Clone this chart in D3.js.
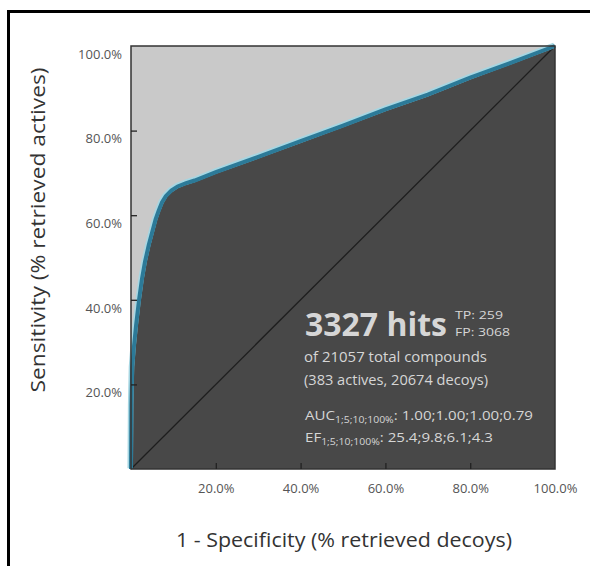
<!DOCTYPE html>
<html><head><meta charset="utf-8">
<script src="https://cdn.jsdelivr.net/npm/d3@7"></script>
<style>
body{margin:0;background:#fff;}
svg{display:block;font-family:"Open Sans","Noto Sans",sans-serif;}
</style></head>
<body>
<svg id="c" width="590" height="566"></svg>
<script>
// ROC curve data (% retrieved decoys vs % retrieved actives)
const fpr = [0, 0.1, 0.3, 0.7, 1.2, 1.9, 2.6, 3.3, 4.2, 5.0, 5.8, 6.5, 7.3, 8.2, 9.5, 11, 13, 15, 20, 30, 40, 50, 60, 70, 80, 90, 100];
const tpr = [0, 15, 24, 29, 34, 40, 45, 49, 53, 56, 59, 61, 63, 64.5, 65.8, 66.8, 67.6, 68.2, 70.2, 73.8, 77.5, 81.2, 85, 88.5, 92.5, 96.2, 100];
const xTicks = [20, 40, 60, 80, 100];
const yTicks = [20, 40, 60, 80, 100];
const hits = "3327 hits";
const tpText = "TP: 259";
const fpText = "FP: 3068";
const totalText = "of 21057 total compounds";
const splitText = "(383 actives, 20674 decoys)";
const aucSub = "1;5;10;100%";
const aucVals = ": 1.00;1.00;1.00;0.79";
const efSub = "1;5;10;100%";
const efVals = ": 25.4;9.8;6.1;4.3";

const svg = d3.select("#c");
const L = 131, R = 555, T = 46, B = 469;
const x = d3.scaleLinear().domain([0, 100]).range([L, R]);
const y = d3.scaleLinear().domain([0, 100]).range([B, T]);

function fit(sel, w) {
  return sel.attr("textLength", w).attr("lengthAdjust", "spacingAndGlyphs");
}

// outer frame
svg.append("rect").attr("x", 8.5).attr("y", 11.5).attr("width", 600).attr("height", 600)
  .attr("fill", "none").attr("stroke", "#000").attr("stroke-width", 3);

const pts = fpr.map((d, i) => [d, tpr[i]]);

// light background (above curve)
svg.append("rect").attr("x", L).attr("y", T).attr("width", R - L).attr("height", B - T).attr("fill", "#c9c9c9");

// dark area below curve
const area = d3.area().x(d => x(d[0])).y0(y(0)).y1(d => y(d[1]));
svg.append("path").datum(pts).attr("d", area).attr("fill", "#484848");

// diagonal
svg.append("path").datum([[0, 0], [100, 100]]).attr("d", d3.line().x(d => x(d[0])).y(d => y(d[1])))
  .attr("stroke", "#1e1e1e").attr("stroke-width", 1.3).attr("fill", "none");

// curve
const line = d3.line().x(d => x(d[0])).y(d => y(d[1]));
svg.append("path").datum(pts).attr("d", line).attr("fill", "none")
  .attr("stroke", "#a6d6e2").attr("stroke-width", 5.5).attr("transform", "translate(-0.8,-0.8)");
svg.append("path").datum(pts).attr("d", line).attr("fill", "none")
  .attr("stroke", "#2c7a98").attr("stroke-width", 4);

// plot border
svg.append("rect").attr("x", L).attr("y", T).attr("width", R - L).attr("height", B - T)
  .attr("fill", "none").attr("stroke", "#333").attr("stroke-width", 1.5);

// axes
const xAxis = d3.axisBottom(x).tickValues(xTicks).tickSize(-6).tickPadding(15).tickFormat(d => d.toFixed(1) + "%");
const gx = svg.append("g").attr("transform", `translate(0,${B})`).call(xAxis);
const yAxis = d3.axisLeft(y).tickValues(yTicks).tickSize(-6).tickPadding(9).tickFormat(d => d.toFixed(1) + "%");
const gy = svg.append("g").attr("transform", `translate(${L},0)`).call(yAxis);
[gx, gy].forEach(g => {
  g.select(".domain").remove();
  g.selectAll(".tick line").attr("stroke", "#222").attr("stroke-width", 1.3);
  g.selectAll(".tick text").attr("fill", "#555").attr("font-size", 13).attr("font-family", "Open Sans");
});
gy.selectAll(".tick text").attr("dy", "0.95em");
gy.selectAll(".tick").filter(d => d === 100).select("line").remove();
gx.selectAll(".tick").filter(d => d === 100).select("line").remove();

// axis titles
fit(svg.append("text").attr("x", 344).attr("y", 547).attr("text-anchor", "middle")
  .attr("font-size", 20).attr("fill", "#333").text("1 - Specificity (% retrieved decoys)"), 336);
fit(svg.append("text").attr("transform", `translate(45,230) rotate(-90)`).attr("text-anchor", "middle")
  .attr("font-size", 20).attr("fill", "#333").text("Sensitivity (% retrieved actives)"), 325);

// stats block
const tc = "#d6d6d6";
fit(svg.append("text").attr("x", 305).attr("y", 336).attr("font-size", 33).attr("font-weight", "bold")
  .attr("fill", tc).text(hits), 142);
fit(svg.append("text").attr("x", 455).attr("y", 319).attr("font-size", 11.5).attr("fill", tc).text(tpText), 48);
fit(svg.append("text").attr("x", 455).attr("y", 336).attr("font-size", 11.5).attr("fill", tc).text(fpText), 55);
fit(svg.append("text").attr("x", 304).attr("y", 362).attr("font-size", 14).attr("fill", tc).text(totalText), 183);
fit(svg.append("text").attr("x", 304).attr("y", 385).attr("font-size", 14).attr("fill", tc).text(splitText), 184);
const auc = svg.append("text").attr("x", 305).attr("y", 420).attr("font-size", 13).attr("fill", tc);
auc.append("tspan").text("AUC");
auc.append("tspan").attr("font-size", 9).attr("dy", 3).text(aucSub);
auc.append("tspan").attr("dy", -3).text(aucVals);
fit(auc, 228);
const ef = svg.append("text").attr("x", 305).attr("y", 442).attr("font-size", 13).attr("fill", tc);
ef.append("tspan").text("EF");
ef.append("tspan").attr("font-size", 9).attr("dy", 3).text(efSub);
ef.append("tspan").attr("dy", -3).text(efVals);
fit(ef, 188);
</script>
</body></html>
